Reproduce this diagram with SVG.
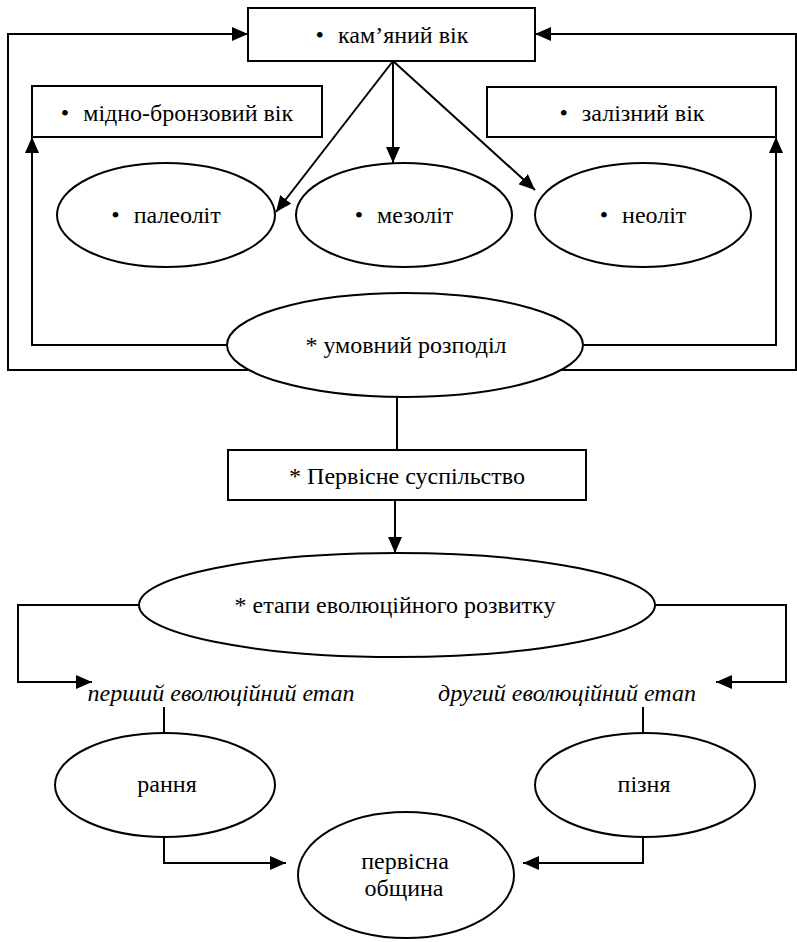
<svg xmlns="http://www.w3.org/2000/svg" width="797" height="942" viewBox="0 0 797 942">
<style>
.n{fill:#fff;stroke:#000;stroke-width:2}
.c{fill:none;stroke:#000;stroke-width:2}
.t{font-size:24px;fill:#000;text-anchor:middle}
.i{font-style:italic}
</style>
<defs>
<marker id="ah" markerUnits="userSpaceOnUse" markerWidth="16" markerHeight="14" refX="16" refY="7" orient="auto">
<path d="M0,0 L16,7 L0,14 Z" fill="#000"/>
</marker>
</defs>
<rect width="797" height="942" fill="#fff"/>
<g id="connectors">
<polyline class="c" points="249,370 8,370 8,34 248,34" marker-end="url(#ah)"/>
<polyline class="c" points="561,370 796,370 796,34 535,34" marker-end="url(#ah)"/>
<polyline class="c" points="227,345 32,345 32,137" marker-end="url(#ah)"/>
<polyline class="c" points="584,345 776,345 776,137" marker-end="url(#ah)"/>
<line class="c" x1="393" y1="61" x2="276" y2="212" marker-end="url(#ah)"/>
<line class="c" x1="393" y1="61" x2="393" y2="163" marker-end="url(#ah)"/>
<line class="c" x1="393" y1="61" x2="535" y2="190" marker-end="url(#ah)"/>
<line class="c" x1="397" y1="397" x2="397" y2="450"/>
<line class="c" x1="395" y1="500" x2="395" y2="553" marker-end="url(#ah)"/>
<polyline class="c" points="139,605 18,605 18,682 92,682" marker-end="url(#ah)"/>
<polyline class="c" points="655,605 786,605 786,682 716,682" marker-end="url(#ah)"/>
<line class="c" x1="164" y1="707" x2="164" y2="733"/>
<line class="c" x1="643" y1="707" x2="643" y2="733"/>
<polyline class="c" points="164,837 164,863 286,863" marker-end="url(#ah)"/>
<polyline class="c" points="643,837 643,863 523,863" marker-end="url(#ah)"/>
</g>
<g font-family="Liberation Serif, Times New Roman, serif">
<g id="kamianyi">
<rect class="n" x="248" y="8" width="287" height="53"/>
<text class="t" x="392" y="43">•<tspan dx="14">кам’яний вік</tspan></text>
</g>
<g id="midno">
<rect class="n" x="32" y="86" width="290" height="51"/>
<text class="t" x="177" y="121">•<tspan dx="14">мідно-бронзовий вік</tspan></text>
</g>
<g id="zalizny">
<rect class="n" x="487" y="87" width="289" height="50"/>
<text class="t" x="632" y="121">•<tspan dx="14">залізний вік</tspan></text>
</g>
<g id="paleolit">
<ellipse class="n" cx="166" cy="215" rx="109" ry="52"/>
<text class="t" x="166" y="223">•<tspan dx="14">палеоліт</tspan></text>
</g>
<g id="mezolit">
<ellipse class="n" cx="404" cy="215" rx="108" ry="52"/>
<text class="t" x="404" y="223">•<tspan dx="14">мезоліт</tspan></text>
</g>
<g id="neolit">
<ellipse class="n" cx="643" cy="215" rx="108" ry="52"/>
<text class="t" x="643" y="223">•<tspan dx="14">неоліт</tspan></text>
</g>
<g id="umovnyi">
<ellipse class="n" cx="405" cy="345" rx="178" ry="52"/>
<text class="t" x="406" y="353">* умовний розподіл</text>
</g>
<g id="pervisne">
<rect class="n" x="228" y="450" width="358" height="50"/>
<text class="t" x="407" y="484">* Первісне суспільство</text>
</g>
<g id="etapy">
<ellipse class="n" cx="397" cy="605" rx="258" ry="52"/>
<text class="t" x="395" y="613">* етапи еволюційного розвитку</text>
</g>
<g id="pershyi">
<text class="t i" x="221" y="701">перший еволюційний етап</text>
</g>
<g id="druhyi">
<text class="t i" x="567" y="701">другий еволюційний етап</text>
</g>
<g id="rannia">
<ellipse class="n" cx="165" cy="785" rx="110" ry="52"/>
<text class="t" x="167" y="792">рання</text>
</g>
<g id="piznia">
<ellipse class="n" cx="645" cy="785" rx="110" ry="52"/>
<text class="t" x="644" y="792">пізня</text>
</g>
<g id="obshchyna">
<ellipse class="n" cx="406" cy="875" rx="108" ry="63"/>
<text class="t" x="405" y="869">первісна</text>
<text class="t" x="404" y="896">община</text>
</g>
</g>
</svg>
